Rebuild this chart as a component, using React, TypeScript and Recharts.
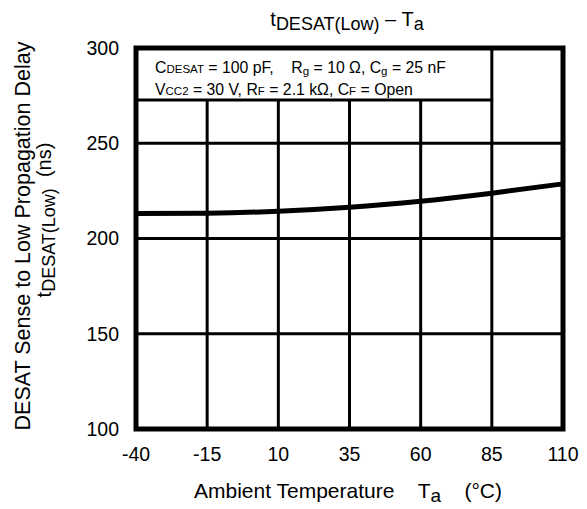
import React from 'react';
import {
  Line,
  LineChart,
  ReferenceArea,
  ReferenceLine,
  XAxis,
  YAxis,
} from 'recharts';

const TEMPS = [-40, -15, 10, 35, 60, 85, 110];
const DELAY_NS = [213.1, 213.3, 214.3, 216.4, 219.6, 223.8, 228.7];
const X_TICKS = [-40, -15, 10, 35, 60, 85, 110];
const Y_TICKS = [100, 150, 200, 250, 300];
// the condition box covers the top-left of the plot up to this value
const BOX_BOTTOM = 272.7;
const BOX_RIGHT = 85;

const data = TEMPS.map((t, i) => ({ ta: t, delay: DELAY_NS[i] }));

const FONT = '"Liberation Sans", Arial, sans-serif';
const W = 587;
const H = 509;

function Overlay() {
  return (
    <svg
      width={W}
      height={H}
      style={{ position: 'absolute', left: 0, top: 0, pointerEvents: 'none' }}
      fontFamily={FONT}
      fill="#000"
    >
      {/* title */}
      <text x={347} y={26} fontSize={20} textAnchor="middle">
        t<tspan fontSize={18} dy={4}>DESAT(Low)</tspan>
        <tspan dy={-4}> – T</tspan>
        <tspan fontSize={18} dy={4}>a</tspan>
      </text>

      {/* conditions */}
      <text x={155} y={73} fontSize={15.8}>
        C<tspan fontSize={11.5}>DESAT</tspan> = 100 pF,{'\u00a0\u00a0\u00a0\u00a0'}R
        <tspan fontSize={11.5} dy={2}>g</tspan>
        <tspan dy={-2}> = 10 Ω, C</tspan>
        <tspan fontSize={11.5} dy={2}>g</tspan>
        <tspan dy={-2}> = 25 nF</tspan>
      </text>
      <text x={155} y={95} fontSize={15.8}>
        V<tspan fontSize={11.5}>CC2</tspan> = 30 V, R<tspan fontSize={11.5}>F</tspan> = 2.1 kΩ, C
        <tspan fontSize={11.5}>F</tspan> = Open
      </text>

      {/* y axis label, two lines */}
      <text transform="translate(30,236) rotate(-90)" fontSize={21.5} textAnchor="middle">
        DESAT Sense to Low Propagation Delay
      </text>
      <text transform="translate(51,220) rotate(-90)" fontSize={20} textAnchor="middle">
        t<tspan fontSize={18} dy={4}>DESAT(Low)</tspan>
        <tspan dy={-4}>{'\u00a0\u00a0'}(ns)</tspan>
      </text>

      {/* x axis label */}
      <text x={348} y={498} fontSize={21} textAnchor="middle">
        Ambient Temperature{'\u00a0\u00a0\u00a0\u00a0'}T
        <tspan fontSize={19} dy={4}>a</tspan>
        <tspan dy={-4}>{'\u00a0\u00a0\u00a0\u00a0'}(°C)</tspan>
      </text>
    </svg>
  );
}

export default function App() {
  const innerX = X_TICKS.slice(1, -1);
  const innerY = Y_TICKS.slice(1, -1);
  return (
    <div style={{ position: 'absolute', left: 0, top: 0, width: W, height: H, background: '#fff' }}>
      <LineChart
        width={W}
        height={H}
        data={data}
        margin={{ top: 48, right: 24, bottom: 0, left: 0 }}
        accessibilityLayer={false}
      >
        <XAxis
          dataKey="ta"
          type="number"
          domain={[-40, 110]}
          ticks={X_TICKS}
          axisLine={false}
          tickLine={false}
          tickMargin={12}
          height={80}
          tick={{ fill: '#000', fontSize: 19.5, fontFamily: FONT }}
        />
        <YAxis
          type="number"
          domain={[100, 300]}
          ticks={Y_TICKS}
          axisLine={false}
          tickLine={false}
          tickMargin={11}
          width={136}
          tick={{ fill: '#000', fontSize: 19.5, fontFamily: FONT }}
        />
        {innerY.map((v) => (
          <ReferenceLine key={`h${v}`} y={v} stroke="#000" strokeWidth={3} />
        ))}
        {innerX.map((v) => (
          <ReferenceLine
            key={`v${v}`}
            segment={[
              { x: v, y: 100 },
              { x: v, y: v >= BOX_RIGHT ? 300 : BOX_BOTTOM },
            ]}
            stroke="#000"
            strokeWidth={3}
          />
        ))}
        <ReferenceLine
          segment={[
            { x: -40, y: BOX_BOTTOM },
            { x: BOX_RIGHT, y: BOX_BOTTOM },
          ]}
          stroke="#000"
          strokeWidth={3}
        />
        <Line
          type="monotone"
          dataKey="delay"
          stroke="#000"
          strokeWidth={5}
          dot={false}
          isAnimationActive={false}
        />
        <ReferenceArea
          x1={-40}
          x2={110}
          y1={100}
          y2={300}
          fill="none"
          stroke="#000"
          strokeWidth={5}
        />
      </LineChart>
      <Overlay />
    </div>
  );
}
